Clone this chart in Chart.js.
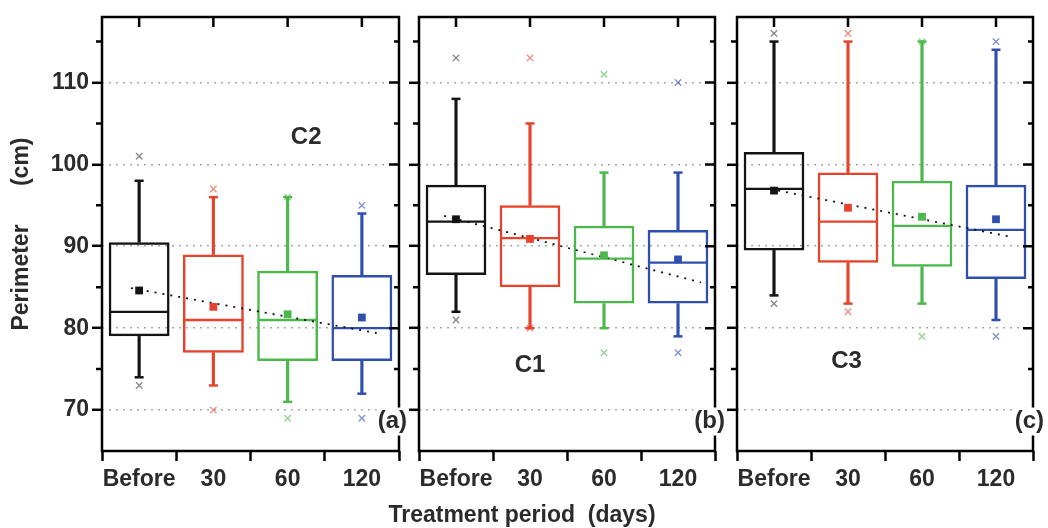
<!DOCTYPE html>
<html><head><meta charset="utf-8">
<script src="https://cdn.jsdelivr.net/npm/chart.js@4.4.1/dist/chart.umd.min.js"></script>
<style>
html,body{margin:0;padding:0;background:#fff;}
body{width:1048px;height:528px;position:relative;overflow:hidden;}
canvas{position:absolute;left:0;top:0;}
</style></head>
<body>
<canvas id="pa" width="1048" height="528"></canvas>
<canvas id="pb" width="1048" height="528"></canvas>
<canvas id="pc" width="1048" height="528"></canvas>
<script>
// ---------- data ----------
const categories = ['Before', '30', '60', '120'];
const yTickValues = [70, 80, 90, 100, 110];
const yMinorValues = [75, 85, 95, 105, 115];
const yAxisTitle = 'Perimeter      (cm)';
const xAxisTitle = 'Treatment period  (days)';

// Panel (a) C2
const c2Min    = [74, 73, 71, 72];
const c2Q1     = [79, 77, 76, 76];
const c2Median = [82, 81, 81, 80];
const c2Q3     = [90.5, 89, 87, 86.5];
const c2Max    = [98, 96, 96, 94];
const c2Mean   = [84.6, 82.6, 81.7, 81.3];
const c2OutHigh = [101, 97, 96, 95];
const c2OutLow  = [73, 70, 69, 69];
const c2TrendX = [-0.11, 3.2];
const c2TrendY = [84.9, 79.4];

// Panel (b) C1
const c1Min    = [82, 80, 80, 79];
const c1Q1     = [86.5, 85, 83, 83];
const c1Median = [93, 91, 88.5, 88];
const c1Q3     = [97.5, 95, 92.5, 92];
const c1Max    = [108, 105, 99, 99];
const c1Mean   = [93.3, 90.9, 88.9, 88.4];
const c1OutHigh = [113, 113, 111, 110];
const c1OutLow  = [81, 80, 77, 77];
const c1TrendX = [-0.16, 3.31];
const c1TrendY = [93.7, 85.6];

// Panel (c) C3
const c3Min    = [84, 83, 83, 81];
const c3Q1     = [89.5, 88, 87.5, 86];
const c3Median = [97, 93, 92.5, 92];
const c3Q3     = [101.5, 99, 98, 97.5];
const c3Max    = [115, 115, 115, 114];
const c3Mean   = [96.8, 94.7, 93.6, 93.3];
const c3OutHigh = [116, 116, 115, 115];
const c3OutLow  = [83, 82, 79, 79];
const c3TrendX = [-0.05, 3.23];
const c3TrendY = [97.0, 91.1];

// ---------- style ----------
const boxColors = ['#141414', '#e5432b', '#4cb84c', '#2f4fae'];
const outColors = ['rgba(60,60,60,0.6)', 'rgba(229,67,43,0.6)', 'rgba(76,184,76,0.6)', 'rgba(47,79,174,0.6)'];
const FONT = '"Liberation Sans", Arial, sans-serif';
const TXT = '#2b2b2b';

function makePanel(id, d, lay) {
  const pts = arr => arr.map((v, i) => ({x: i, y: v}));
  const caps = [...pts(d.max), ...pts(d.min)];
  const outs = [];
  d.outHigh.forEach((v, i) => { if (v != null) outs.push({x: i, y: v}); });
  d.outLow.forEach((v, i) => { if (v != null) outs.push({x: i, y: v}); });
  const colOf = c => boxColors[c.raw ? c.raw.x : c.dataIndex];

  const frame = {
    id: 'frame' + id,
    afterDraw(chart) {
      const {ctx, chartArea: a, scales: {x, y}} = chart;
      ctx.save();
      ctx.strokeStyle = '#000';
      ctx.lineWidth = 2.5;
      ctx.strokeRect(a.left, a.top, a.right - a.left, a.bottom - a.top);
      ctx.beginPath();
      categories.forEach((c, i) => { const px = x.getPixelForValue(i); ctx.moveTo(px, a.top); ctx.lineTo(px, a.top + 10); });
      yTickValues.forEach(v => { const py = y.getPixelForValue(v); ctx.moveTo(a.right, py); ctx.lineTo(a.right - 10, py); });
      yMinorValues.forEach(v => {
        const py = y.getPixelForValue(v);
        ctx.moveTo(a.right, py); ctx.lineTo(a.right - 5, py);
        ctx.moveTo(a.left, py); ctx.lineTo(a.left - 6, py);
      });
      ctx.stroke();
      ctx.fillStyle = TXT;
      ctx.textAlign = 'center';
      ctx.textBaseline = 'middle';
      ctx.font = 'bold 24px ' + FONT;
      ctx.fillText(lay.name, x.getPixelForValue(lay.nameX), y.getPixelForValue(lay.nameY));
      ctx.font = 'bold 24px ' + FONT;
      const w = ctx.measureText(lay.tag).width;
      const ty = y.getPixelForValue(lay.tagY);
      const tx = a.right + lay.tagDx;
      ctx.fillStyle = '#fff';
      ctx.fillRect(tx - w - 1, ty - 14, w + 2, 28);
      ctx.fillStyle = TXT;
      ctx.textAlign = 'right';
      ctx.fillText(lay.tag, tx, ty);
      if (lay.xTitle) {
        ctx.textAlign = 'center';
        ctx.font = 'bold 23px ' + FONT;
        ctx.fillText(xAxisTitle, lay.xTitleX, lay.xTitleY);
      }
      ctx.restore();
    }
  };

  return new Chart(document.getElementById(id), {
    type: 'bar',
    data: {
      datasets: [
        { type: 'scatter', label: 'mean', data: pts(d.mean), pointStyle: 'rect', pointRadius: 5.5,
          pointBackgroundColor: colOf, pointBorderColor: colOf, pointBorderWidth: 0 },
        { type: 'line', label: 'trend', data: d.trendX.map((v, i) => ({x: v, y: d.trendY[i]})),
          borderColor: '#111', borderWidth: 1.8, borderDash: [2, 6], pointRadius: 0, fill: false },
        { type: 'scatter', label: 'median', data: pts(d.median), pointStyle: 'line', pointRadius: 30,
          pointBorderColor: colOf, pointBorderWidth: 2.3 },
        { type: 'scatter', label: 'caps', data: caps, pointStyle: 'line', pointRadius: 4.5,
          pointBorderColor: colOf, pointBorderWidth: 2.5 },
        { type: 'scatter', label: 'outliers', data: outs, pointStyle: 'crossRot', pointRadius: 4.5,
          pointBorderColor: c => outColors[c.raw.x], pointBorderWidth: 1.4 },
        { type: 'bar', label: 'box', data: d.q1.map((v, i) => ({x: i, y: [v, d.q3[i]]})),
          backgroundColor: 'rgba(0,0,0,0)', borderColor: boxColors, borderWidth: 2.5, borderSkipped: false,
          grouped: false, barPercentage: 0.82, categoryPercentage: 1 },
        { type: 'bar', label: 'whiskerHigh', data: d.q3.map((v, i) => ({x: i, y: [v, d.max[i]]})),
          backgroundColor: boxColors, borderWidth: 0, grouped: false, barThickness: 2.5 },
        { type: 'bar', label: 'whiskerLow', data: d.min.map((v, i) => ({x: i, y: [v, d.q1[i]]})),
          backgroundColor: boxColors, borderWidth: 0, grouped: false, barThickness: 2.5 }
      ]
    },
    options: {
      responsive: false,
      animation: false,
      events: [],
      layout: { autoPadding: false, padding: { left: lay.padLeft, right: lay.padRight, top: 17, bottom: 0 } },
      plugins: { legend: { display: false }, tooltip: { enabled: false } },
      scales: {
        x: {
          type: 'linear', min: -0.5, max: 3.5, offset: false,
          afterBuildTicks: s => { s.ticks = categories.map((c, i) => ({value: i})); },
          afterFit: s => { s.height = 77; },
          ticks: { callback: v => categories[v], autoSkip: false, maxRotation: 0, padding: 5,
                   color: TXT, font: { family: FONT, size: 23, weight: 'bold' } },
          grid: { drawOnChartArea: false, drawTicks: true, tickLength: 10, tickWidth: 2.5, tickColor: '#000' },
          border: { display: false }
        },
        y: {
          type: 'linear', min: 65, max: 118,
          afterBuildTicks: s => { s.ticks = yTickValues.map(v => ({value: v})); },
          afterFit: s => { s.width = lay.yWidth; },
          ticks: { display: lay.yLabels, padding: 3, color: TXT, font: { family: FONT, size: 23, weight: 'bold' } },
          title: { display: lay.yLabels, text: yAxisTitle, color: TXT, font: { family: FONT, size: 23, weight: 'bold' },
                   padding: { top: 4, bottom: 4 } },
          grid: { color: '#a9a9a9', lineWidth: 1.6, drawTicks: true, tickLength: 10, tickWidth: 2.5, tickColor: '#000' },
          border: { display: false, dash: [2, 5] }
        }
      }
    },
    plugins: [frame]
  });
}

makePanel('pa', { min: c2Min, q1: c2Q1, median: c2Median, q3: c2Q3, max: c2Max, mean: c2Mean,
  outHigh: c2OutHigh, outLow: c2OutLow, trendX: c2TrendX, trendY: c2TrendY },
  { padLeft: 4, padRight: 1048 - 399, yWidth: 98, yLabels: true,
    name: 'C2', nameX: 2.25, nameY: 103.3, tag: '(a)', tagY: 68.6, tagDx: 8 });

makePanel('pb', { min: c1Min, q1: c1Q1, median: c1Median, q3: c1Q3, max: c1Max, mean: c1Mean,
  outHigh: c1OutHigh, outLow: c1OutLow, trendX: c1TrendX, trendY: c1TrendY },
  { padLeft: 409, padRight: 1048 - 715, yWidth: 10, yLabels: false,
    name: 'C1', nameX: 1.0, nameY: 75.4, tag: '(b)', tagY: 68.6, tagDx: 10,
    xTitle: true, xTitleX: 522, xTitleY: 516 });

makePanel('pc', { min: c3Min, q1: c3Q1, median: c3Median, q3: c3Q3, max: c3Max, mean: c3Mean,
  outHigh: c3OutHigh, outLow: c3OutLow, trendX: c3TrendX, trendY: c3TrendY },
  { padLeft: 727, padRight: 1048 - 1033, yWidth: 10, yLabels: false,
    name: 'C3', nameX: 0.98, nameY: 75.9, tag: '(c)', tagY: 68.6, tagDx: 11 });
</script>
</body></html>
